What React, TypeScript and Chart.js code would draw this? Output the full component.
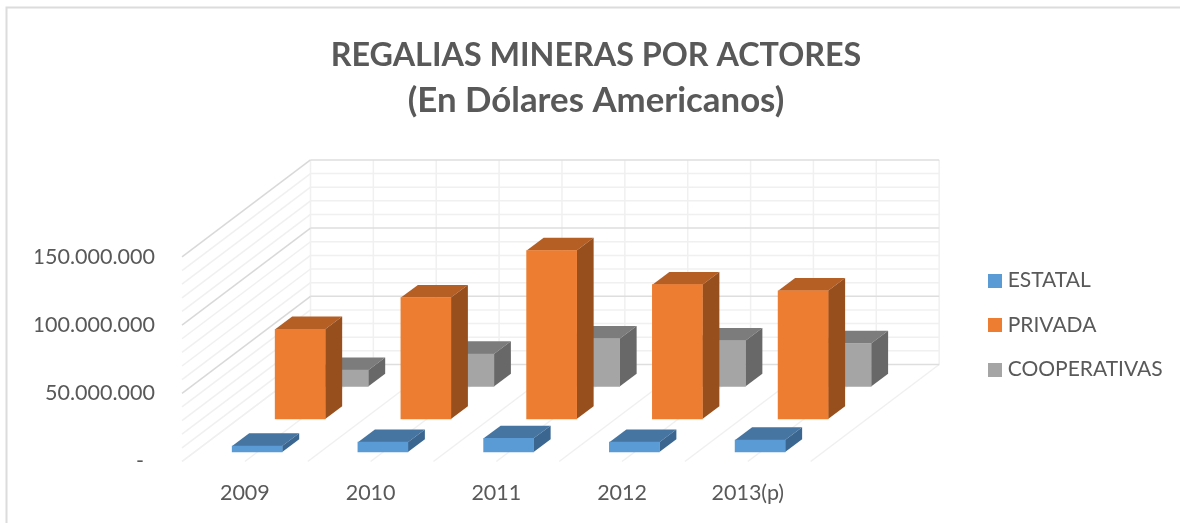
import React, { useEffect, useRef } from "react";
import { Chart, registerables } from "chart.js";

Chart.register(...registerables);

const categories = ["2009", "2010", "2011", "2012", "2013(p)"];
const estatal = [4400000, 7200000, 10000000, 7200000, 8800000];
const privada = [65800000, 89000000, 123500000, 98500000, 94000000];
const cooperativas = [12000000, 23800000, 35000000, 33500000, 31500000];
const titleLine = "REGALIAS MINERAS POR ACTORES";
const subtitleLine = "(En Dólares Americanos)";
const seriesColors = ["#5B9BD5", "#ED7D31", "#A5A5A5"];

const FONT = "Lato";
const TEXT = "#595959";
const WALL_DX = 128.5;
const WALL_DY = 97;
const BAR_DX = 17;
const BAR_DY = 12.7;
const seriesShift = [
  { dx: 12.3, dy: -9.5 },
  { dx: 55.3, dy: -42.5 },
  { dx: 98.3, dy: -75 },
];
const faces = [
  { top: "#4675A1", side: "#3A6690" },
  { top: "#B55F25", side: "#964F1D" },
  { top: "#7C7C7C", side: "#686868" },
];

const poly = (ctx: CanvasRenderingContext2D, pts: number[][], fill: string) => {
  ctx.beginPath();
  pts.forEach(([x, y], i) => (i ? ctx.lineTo(x, y) : ctx.moveTo(x, y)));
  ctx.closePath();
  ctx.fillStyle = fill;
  ctx.fill();
};

const line = (ctx: CanvasRenderingContext2D, pts: number[][], color: string, w = 1.5) => {
  ctx.beginPath();
  pts.forEach(([x, y], i) => (i ? ctx.lineTo(x, y) : ctx.moveTo(x, y)));
  ctx.strokeStyle = color;
  ctx.lineWidth = w;
  ctx.stroke();
};

const frame = {
  id: "frame",
  afterLayout(chart: any) {
    const lg = chart.legend;
    lg.top += 63.5;
    lg.bottom += 63.5;
    lg.right = chart.width;
  },
  beforeDraw(chart: any) {
    const { ctx, width, height } = chart;
    ctx.save();
    ctx.fillStyle = "#ffffff";
    ctx.fillRect(0, 0, width, height);
    line(ctx, [[6.5, height], [6.5, 7.5], [width, 7.5]], "#dcdcdc", 2);
    ctx.restore();
  },
};

const depth3d = {
  id: "depth3d",
  beforeDatasetsDraw(chart: any) {
    const { ctx, scales } = chart;
    const { x: xs, y: ys } = scales;
    const L = xs.left;
    const R = xs.right;
    const B = ys.bottom;
    ctx.save();
    for (let i = 0; i <= categories.length * 2; i++) {
      const px = xs.getPixelForValue(i / 2 - 0.5);
      line(ctx, [[px, B], [px + WALL_DX, B - WALL_DY], [px + WALL_DX, ys.top - WALL_DY]], "#f0f0f0");
    }
    const ticks = [...ys.ticks].sort((a: any, b: any) => a.value - b.value);
    ticks.forEach((t: any) => {
      const py = ys.getPixelForValue(t.value);
      const major = t.value % 50000000 === 0;
      const c = major && t.value > 0 ? "#d9d9d9" : "#f0f0f0";
      line(ctx, [[L, py], [L + WALL_DX, py - WALL_DY]], c);
      line(ctx, [[L + WALL_DX, py - WALL_DY], [R + WALL_DX, py - WALL_DY]], major ? "#dedede" : "#f0f0f0");
    });
    ctx.restore();
  },
  beforeDatasetDraw(chart: any, args: any) {
    const { ctx } = chart;
    const s = seriesShift[args.index];
    ctx.save();
    ctx.translate(s.dx, s.dy);
    args.meta.data.forEach((bar: any) => {
      const l = bar.x - bar.width / 2;
      const r = bar.x + bar.width / 2;
      const t = bar.y;
      const b = bar.base;
      poly(ctx, [[l, t], [r, t], [r + BAR_DX, t - BAR_DY], [l + BAR_DX, t - BAR_DY]], faces[args.index].top);
      poly(ctx, [[r, t], [r + BAR_DX, t - BAR_DY], [r + BAR_DX, b - BAR_DY], [r, b]], faces[args.index].side);
    });
  },
  afterDatasetDraw(chart: any) {
    chart.ctx.restore();
  },
};

const dotted = (v: number) => String(v).replace(/\B(?=(\d{3})+$)/g, ".");

const swatch = (color: string) => {
  const c = document.createElement("canvas");
  c.width = 14;
  c.height = 14;
  const g = c.getContext("2d")!;
  g.fillStyle = color;
  g.fillRect(0, 0, 14, 14);
  return c;
};

export default function App() {
  const ref = useRef<HTMLCanvasElement>(null);
  useEffect(() => {
    const swatches = seriesColors.map(swatch);
    const chart = new Chart(ref.current!, {
      type: "bar",
      data: {
        labels: categories,
        datasets: [
          { label: "ESTATAL", data: estatal, backgroundColor: seriesColors[0] },
          { label: "PRIVADA", data: privada, backgroundColor: seriesColors[1] },
          { label: "COOPERATIVAS", data: cooperativas, backgroundColor: seriesColors[2] },
        ].map((d) => ({ ...d, grouped: false, barThickness: 50, clip: false, yAxisID: "y" })) as any,
      },
      options: {
        responsive: false,
        animation: false,
        layout: { padding: { left: 35.5, right: 23.5, top: 0, bottom: 0 } },
        plugins: {
          tooltip: { enabled: false },
          title: {
            display: true,
            text: titleLine,
            color: TEXT,
            font: { family: FONT, size: 32.3, weight: "bold", lineHeight: 1.39 },
            padding: { top: 33, bottom: 0 },
          },
          subtitle: {
            display: true,
            text: subtitleLine,
            color: TEXT,
            font: { family: FONT, size: 34.8, weight: "bold", lineHeight: 1.293 },
            padding: { top: 0, bottom: 134 },
          },
          legend: {
            position: "right",
            labels: {
              color: TEXT,
              font: { family: FONT, size: 21 },
              usePointStyle: true,
              pointStyleWidth: 4,
              boxHeight: 14,
              padding: 23.5,
              generateLabels: (c: any) =>
                Chart.defaults.plugins.legend.labels
                  .generateLabels(c)
                  .map((item: any, i: number) => ({ ...item, pointStyle: swatches[i] })),
            },
          },
        },
        scales: {
          x: {
            grid: { display: false },
            border: { display: false },
            ticks: { color: TEXT, font: { family: FONT, size: 21.5 }, padding: 11, maxRotation: 0 },
            afterFit: (s: any) => {
              s.height = 61.5;
            },
          },
          y: {
            min: 0,
            max: 150000000,
            grid: { display: false },
            border: { display: false },
            ticks: {
              stepSize: 10000000,
              autoSkip: false,
              color: TEXT,
              font: { family: FONT, size: 21.5 },
              padding: 19,
              callback: (v: any) =>
                v === 0 ? "-\u00a0\u00a0" : v % 50000000 === 0 ? dotted(v) : "",
            },
            afterFit: (s: any) => {
              s.width = 146.5;
            },
          },
          spacer: {
            type: "linear",
            position: "right",
            grid: { display: false },
            border: { display: false },
            ticks: { display: false },
            afterFit: (s: any) => {
              s.width = 159;
            },
          },
        },
      } as any,
      plugins: [frame, depth3d],
    });
    return () => chart.destroy();
  }, []);
  return (
    <div style={{ position: "absolute", left: 0, top: 0, width: 1180, height: 523 }}>
      <canvas ref={ref} width={1180} height={523} style={{ display: "block" }} />
    </div>
  );
}
